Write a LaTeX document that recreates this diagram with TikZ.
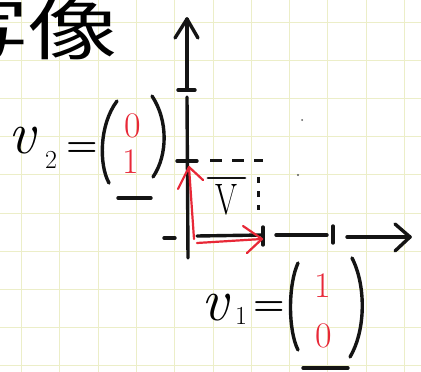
\documentclass[tikz,border=0pt]{standalone}
\usepackage{fontspec}
\newfontfamily\jpfont{Noto Sans CJK JP}
\begin{document}
\begin{tikzpicture}[x=1pt,y=-1pt,
  gridline/.style={draw={rgb,255:red,236;green,238;blue,200},line width=0.9pt},
  ink/.style={draw={rgb,255:red,20;green,20;blue,20},line width=3.4pt,line cap=round,line join=round},
  thinink/.style={ink,line width=2.8pt},
  redink/.style={draw={rgb,255:red,232;green,40;blue,55},line width=2.2pt,line cap=round,line join=round},
  dashink/.style={ink,line width=3pt,line cap=butt},
  reddigit/.style={text={rgb,255:red,232;green,40;blue,55},inner sep=0pt,font=\fontsize{36}{36}\selectfont},
  vletter/.style={inner sep=0pt,font=\itshape\fontsize{60}{60}\selectfont},
  subletter/.style={inner sep=0pt,font=\fontsize{26}{26}\selectfont},
  eqsign/.style={inner sep=0pt,font=\bfseries\fontsize{36}{36}\selectfont},
  speck/.style={fill={rgb,255:red,90;green,90;blue,90}}
]
\useasboundingbox (0,0) rectangle (421,372);
\fill[white] (0,0) rectangle (421,372);
% grid paper
\foreach \i in {0,...,10} \draw[gridline] ({21.5+38.3*\i},0) -- ({21.5+38.3*\i},372);
\foreach \j in {0,...,9} \draw[gridline] (0,{22+38.2*\j}) -- (421,{22+38.2*\j});
\fill[speck] (298,175) circle (1.2);
\fill[speck] (302,120) circle (1);

% title
\node[font=\jpfont\fontsize{66}{66}\selectfont, anchor=east, xscale=1.35, inner sep=0pt] (title) at (118,30) {写像};

% axes coordinates
\coordinate (O) at (188,238);
\coordinate (ytip) at (187,19);
\coordinate (ytop) at (187,88);
\coordinate (ymid) at (187,97);
\coordinate (ybot) at (188,258);
\coordinate (yh1) at (175,38);
\coordinate (yh2) at (198,38);
\coordinate (t1a) at (178,90);
\coordinate (t1b) at (195,90);
\coordinate (t2a) at (177,161);
\coordinate (t2b) at (197,161);
\coordinate (xl1) at (164,238);
\coordinate (xl2) at (175,238);
\coordinate (xa1) at (197,236);
\coordinate (xa2) at (262,235);
\coordinate (tx1a) at (263,227);
\coordinate (tx1b) at (263,245);
\coordinate (xb1) at (276,235);
\coordinate (xb2) at (327,235);
\coordinate (tx2a) at (333,226);
\coordinate (tx2b) at (333,243);
\coordinate (xc1) at (347,237);
\coordinate (xtip) at (410,237);
\coordinate (xh1) at (395,224);
\coordinate (xh2) at (395,251);

% y axis
\draw[ink] (ytop) -- (ytip);
\draw[ink] (yh1) -- (ytip) -- (yh2);
\draw[ink] (t1a) -- (t1b);
\draw[ink] (ymid) -- (ybot);
\draw[ink] (t2a) -- (t2b);
% x axis
\draw[ink] (xl1) -- (xl2);
\draw[ink] (xa1) -- (xa2);
\draw[ink] (tx1a) -- (tx1b);
\draw[ink] (xb1) -- (xb2);
\draw[ink] (tx2a) -- (tx2b);
\draw[ink] (xc1) -- (xtip);
\draw[ink] (xh1) -- (xtip) -- (xh2);

% dashed box
\coordinate (d1) at (210,160);
\coordinate (d2) at (263,160);
\coordinate (d3) at (258,177);
\coordinate (d4) at (258,210);
\draw[dashink,dash pattern=on 12pt off 10pt] (d1) -- (d2);
\draw[dashink,dash pattern=on 6pt off 8pt] (d3) -- (d4);

% V with bar
\node[inner sep=0pt,font=\fontsize{44}{44}\selectfont,xscale=0.72] (V) at (226,200) {V};
\coordinate (bar1) at (208,178);
\coordinate (bar2) at (245,178);
\draw[thinink] (bar1) -- (bar2);

% red basis arrows
\coordinate (r0) at (194,239);
\coordinate (r1) at (189,167);
\coordinate (r1a) at (178,189);
\coordinate (r1b) at (203,180);
\coordinate (s0) at (197,243);
\coordinate (s1) at (262,239);
\coordinate (s1a) at (243,226);
\coordinate (s1b) at (247,253);
\draw[redink] (r0) -- (r1);
\draw[redink] (r1a) -- (r1) -- (r1b);
\draw[redink] (s0) -- (s1);
\draw[redink] (s1a) -- (s1) -- (s1b);

% v2 = (0 1)
\node[vletter] (v2) at (22,141) {v};
\node[subletter] (v2s) at (51,160) {2};
\node[eqsign] (eq2) at (82,150) {=};
\node[reddigit] (v2a) at (133,126) {0};
\node[reddigit] (v2b) at (131,162) {1};
\coordinate (p2l1) at (117,101);
\coordinate (p2l2) at (109,183);
\coordinate (p2r1) at (152,96);
\coordinate (p2r2) at (153,177);
\draw[ink] (p2l1) .. controls (99,125) and (99,165) .. (p2l2);
\draw[ink] (p2r1) .. controls (168,120) and (168,155) .. (p2r2);
\coordinate (u2a) at (118,198);
\coordinate (u2b) at (151,198);
\draw[ink] (u2a) -- (u2b);

% v1 = (1 0)
\node[vletter] (v1) at (215,308) {v};
\node[subletter] (v1s) at (241,316) {1};
\node[eqsign] (eq1) at (269,309) {=};
\node[reddigit] (v1a) at (323,286) {1};
\node[reddigit] (v1b) at (324,336) {0};
\coordinate (p1l1) at (298,263);
\coordinate (p1l2) at (298,350);
\coordinate (p1r1) at (352,258);
\coordinate (p1r2) at (350,357);
\draw[ink] (p1l1) .. controls (288,285) and (288,330) .. (p1l2);
\draw[ink] (p1r1) .. controls (366,285) and (366,330) .. (p1r2);
\coordinate (u1a) at (303,368);
\coordinate (u1b) at (348,368);
\draw[ink] (u1a) -- (u1b);
\end{tikzpicture}
\end{document}
